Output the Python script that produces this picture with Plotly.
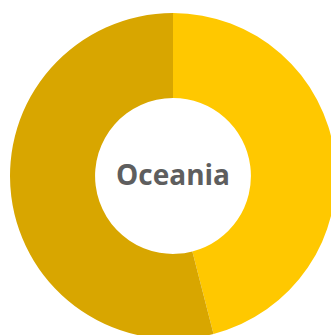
import plotly.graph_objects as go

# data
region = 'Oceania'
labels = ['Oceania', 'Rest of world']
values = [46, 54]
colors = ['#FFC800', '#D8A600']

fig = go.Figure(go.Pie(
    labels=labels,
    values=values,
    hole=0.478,
    sort=False,
    direction='clockwise',
    rotation=0,
    textinfo='none',
    hoverinfo='label+percent',
    marker={'colors': colors, 'line': {'width': 0}},
    showlegend=False,
))

fig.update_layout(
    width=346,
    height=352,
    margin={'l': 10, 'r': 10, 't': 13, 'b': 13},
    paper_bgcolor='white',
    plot_bgcolor='white',
    annotations=[{
        'text': f'<b>{region}</b>',
        'x': 0.5,
        'y': 0.5,
        'xref': 'paper',
        'yref': 'paper',
        'yshift': 2,
        'showarrow': False,
        'font': {'family': 'Open Sans', 'size': 28, 'color': '#5e5e5e'},
    }],
)

fig.write_html(
    'out.html',
    config={'displayModeBar': False},
    post_script="document.body.style.margin='0';document.body.style.overflow='hidden';",
)
